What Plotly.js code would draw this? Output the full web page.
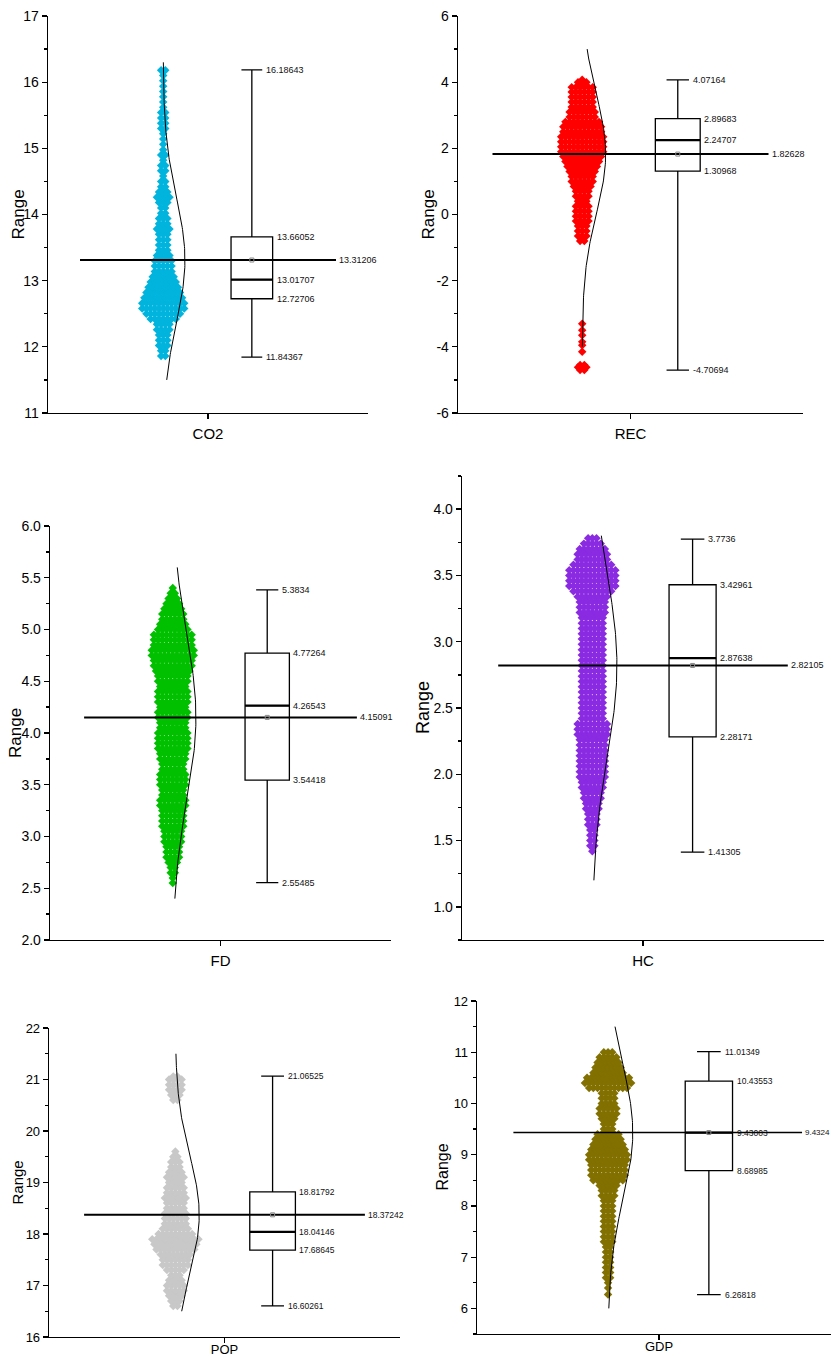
<!DOCTYPE html>
<html><head><meta charset="utf-8">
<script src="https://cdn.plot.ly/plotly-3.0.1.min.js"></script>
<style>html,body{margin:0;padding:0;background:#fff}#chart{width:831px;height:1358px}</style>
</head><body><div id="chart"></div>
<script>
// ---------- data ----------
const categories = ['CO2', 'REC', 'FD', 'HC', 'POP', 'GDP'];
const minVals    = [11.84367, -4.70694, 2.55485, 1.41305, 16.60261, 6.26818];
const q1Vals     = [12.72706, 1.30968, 3.54418, 2.28171, 17.68645, 8.68985];
const medianVals = [13.01707, 2.24707, 4.26543, 2.87638, 18.04146, 9.43003];
const q3Vals     = [13.66052, 2.89683, 4.77264, 3.42961, 18.81792, 10.43553];
const maxVals    = [16.18643, 4.07164, 5.3834, 3.7736, 21.06525, 11.01349];
const meanVals   = [13.31206, 1.82628, 4.15091, 2.82105, 18.37242, 9.4324];
const sdVals     = [0.95, 1.8, 0.8, 0.69, 1.15, 1.3];
const curveLo    = [11.5, -4.0, 2.4, 1.2, 16.5, 6.0];
const curveHi    = [16.3, 5.0, 5.6, 3.8, 21.5, 11.5];

// y tick values and labels per panel
const yTickVals = [
  [11, 12, 13, 14, 15, 16, 17],
  [-6, -4, -2, 0, 2, 4, 6],
  [2.0, 2.5, 3.0, 3.5, 4.0, 4.5, 5.0, 5.5, 6.0],
  [1.0, 1.5, 2.0, 2.5, 3.0, 3.5, 4.0],
  [16, 17, 18, 19, 20, 21, 22],
  [6, 7, 8, 9, 10, 11, 12]
];
const yTickText = [
  ['11', '12', '13', '14', '15', '16', '17'],
  ['-6', '-4', '-2', '0', '2', '4', '6'],
  ['2.0', '2.5', '3.0', '3.5', '4.0', '4.5', '5.0', '5.5', '6.0'],
  ['1.0', '1.5', '2.0', '2.5', '3.0', '3.5', '4.0'],
  ['16', '17', '18', '19', '20', '21', '22'],
  ['6', '7', '8', '9', '10', '11', '12']
];

// swarm: value levels and number of points seen at each level
const co2Levels = [11.86,11.94,12.02,12.10,12.18,12.26,12.34,12.42,12.50,12.58,12.66,12.74,12.82,12.90,12.98,13.06,13.14,13.22,13.30,13.38,13.46,13.54,13.62,13.70,13.78,13.86,13.94,14.02,14.10,14.18,14.26,14.34,14.42,14.50,14.58,14.66,14.74,14.82,14.90,14.98,15.06,15.14,15.22,15.30,15.38,15.46,15.54,15.62,15.70,15.78,15.86,15.94,16.02,16.10,16.18];
const co2Counts = [2,2,3,3,3,4,4,7,9,11,11,10,9,8,7,6,5,5,5,4,3,3,3,3,4,3,3,2,2,3,4,3,2,2,1,2,2,1,2,1,1,1,1,2,2,2,2,1,1,1,1,1,1,1,2];

const recLevels = [-4.70,-4.62,-4.55,-4.15,-3.95,-3.85,-3.65,-3.50,-3.30,-0.80,-0.65,-0.50,-0.35,-0.20,-0.05,0.10,0.25,0.40,0.55,0.70,0.85,1.00,1.15,1.30,1.45,1.60,1.75,1.90,2.05,2.20,2.35,2.50,2.65,2.80,2.95,3.10,3.25,3.40,3.55,3.70,3.85,4.00,4.07];
const recCounts = [2,3,2,1,1,1,1,1,1,2,3,3,3,4,4,4,4,3,4,4,5,6,6,7,8,9,10,11,11,11,11,10,10,9,7,7,6,6,6,6,6,3,1];

const fdLevels = [2.55,2.60,2.65,2.70,2.75,2.80,2.85,2.90,2.95,3.00,3.05,3.10,3.15,3.20,3.25,3.30,3.35,3.40,3.45,3.50,3.55,3.60,3.65,3.70,3.75,3.80,3.85,3.90,3.95,4.00,4.05,4.10,4.15,4.20,4.25,4.30,4.35,4.40,4.45,4.50,4.55,4.60,4.65,4.70,4.75,4.80,4.85,4.90,4.95,5.00,5.05,5.10,5.15,5.20,5.25,5.30,5.35,5.40];
const fdCounts = [1,1,2,2,3,4,4,4,5,5,5,6,6,6,6,7,7,6,6,7,7,7,6,6,7,7,8,8,8,8,7,7,8,8,7,8,8,8,7,8,8,9,10,10,11,11,10,10,10,8,7,6,6,5,4,3,2,1];

const hcLevels = [1.42,1.46,1.50,1.54,1.58,1.62,1.66,1.70,1.74,1.78,1.82,1.86,1.90,1.94,1.98,2.02,2.06,2.10,2.14,2.18,2.22,2.26,2.30,2.34,2.38,2.42,2.46,2.50,2.54,2.58,2.62,2.66,2.70,2.74,2.78,2.82,2.86,2.90,2.94,2.98,3.02,3.06,3.10,3.14,3.18,3.22,3.26,3.30,3.34,3.38,3.42,3.46,3.50,3.54,3.58,3.62,3.66,3.70,3.74,3.78];
const hcCounts = [1,2,2,2,2,3,3,3,4,4,5,5,6,6,7,7,7,7,7,7,7,7,8,8,8,6,6,6,6,6,6,6,6,6,6,6,6,6,6,6,6,6,6,6,6,7,7,7,8,10,12,12,12,12,10,8,8,7,5,3];

const popLevels = [16.6,16.7,16.8,16.9,17.0,17.1,17.2,17.3,17.4,17.5,17.6,17.7,17.8,17.9,18.0,18.1,18.2,18.3,18.4,18.5,18.6,18.7,18.8,18.9,19.0,19.1,19.2,19.3,19.4,19.5,19.6,20.6,20.7,20.8,20.9,21.0,21.06];
const popCounts = [2,3,4,5,5,4,3,5,7,7,8,10,11,12,9,7,6,6,6,5,5,6,5,5,4,5,4,3,3,2,1,2,3,4,4,4,2];

const gdpLevels = [6.27,6.4,6.5,6.6,6.7,6.8,6.9,7.0,7.1,7.2,7.3,7.4,7.5,7.6,7.7,7.8,7.9,8.0,8.1,8.2,8.3,8.4,8.5,8.6,8.7,8.8,8.9,9.0,9.1,9.2,9.3,9.4,9.5,9.6,9.7,9.8,9.9,10.0,10.1,10.2,10.3,10.4,10.5,10.6,10.7,10.8,10.9,11.0];
const gdpCounts = [1,1,1,2,2,2,2,2,2,2,3,3,3,3,3,3,3,3,3,4,4,5,8,9,9,9,10,10,9,8,7,6,3,3,4,5,5,4,4,4,10,12,11,8,7,6,5,3];

const swarmLevels = [co2Levels, recLevels, fdLevels, hcLevels, popLevels, gdpLevels];
const swarmCounts = [co2Counts, recCounts, fdCounts, hcCounts, popCounts, gdpCounts];
const colors = ['#00B4DE', '#FF0000', '#00C000', '#8A2BE2', '#C8C8C8', '#827000'];

// ---------- layout / style ----------
const W = 831, H = 1358;
const panels = [
  {x0:48,  x1:368, y0:16,   y1:413,  yr:[11,17],     mdt:0.5,  xr:[0,1], top:true,  titleX:18,  tfs:17},
  {x0:458, x1:803, y0:16,   y1:413,  yr:[-6,6],      mdt:1,    xr:[0,1], top:true,  titleX:428, tfs:17},
  {x0:50,  x1:391, y0:526,  y1:940,  yr:[2,6],       mdt:0.25, xr:[0,1], top:true,  titleX:15,  tfs:17},
  {x0:462, x1:824, y0:476,  y1:940,  yr:[0.75,4.25], mdt:0.25, xr:[0,1], top:true,  titleX:423, tfs:18},
  {x0:49,  x1:400, y0:1028, y1:1337, yr:[16,22],     mdt:0.5,  xr:[0,1], top:false, titleX:17,  tfs:15},
  {x0:477, x1:831, y0:1001, y1:1334, yr:[5.5,12],    mdt:0.5,  xr:[0,354/364], top:false, titleX:442, tfs:16}
];
const FONT = '"Liberation Sans", Arial, sans-serif';
const SWARM_C = 0.36, BOX_C = 0.637, BOX_W = 0.13, CURVE_AMP = 0.068, SPACING_PX = 4.2;

const traces = [];
const annotations = [];
const layout = {
  width: W, height: H, margin: {l:0, r:0, t:0, b:0},
  paper_bgcolor: '#fff', plot_bgcolor: 'rgba(0,0,0,0)', showlegend: false,
  annotations: annotations
};

panels.forEach((p, i) => {
  const xa = i === 0 ? 'x' : 'x' + (i + 1);
  const ya = i === 0 ? 'y' : 'y' + (i + 1);
  const xk = i === 0 ? 'xaxis' : 'xaxis' + (i + 1);
  const yk = i === 0 ? 'yaxis' : 'yaxis' + (i + 1);
  const tickFont = {family: FONT, size: p.top ? 14 : 13, color: '#000'};
  const labFont = {family: FONT, size: p.top ? 9 : 8.5, color: '#111'};
  const pxPerUnit = (p.x1 - p.x0) / (p.xr[1] - p.xr[0]);
  const dx = SPACING_PX / pxPerUnit;

  layout[xk] = {
    domain: [p.x0 / W, p.x1 / W], range: p.xr, anchor: ya,
    showline: true, linecolor: '#000', linewidth: 1.3, showgrid: false, zeroline: false,
    ticks: 'outside', ticklen: 5, tickwidth: 1.3, tickcolor: '#000',
    tickvals: [0.5], ticktext: [categories[i]], ticklabelstandoff: p.top ? 2 : -5,
    tickfont: {family: FONT, size: p.top ? 15 : 13, color: '#000'}
  };
  layout[yk] = {
    domain: [1 - p.y1 / H, 1 - p.y0 / H], range: p.yr, anchor: xa,
    showline: true, linecolor: '#000', linewidth: 1.3, showgrid: false, zeroline: false,
    ticks: 'outside', ticklen: 5, tickwidth: 1.3, tickcolor: '#000',
    tickmode: 'array', tickvals: yTickVals[i], ticktext: yTickText[i], tickfont: tickFont,
    minor: {ticks: 'outside', ticklen: 3, tickwidth: 1.3, tickcolor: '#000', dtick: p.mdt, tick0: 0, showgrid: false}
  };

  // swarm points
  const sx = [], sy = [];
  swarmLevels[i].forEach((v, k) => {
    const n = swarmCounts[i][k];
    for (let j = 0; j < n; j++) {
      sx.push(SWARM_C + (j - (n - 1) / 2) * dx);
      sy.push(v);
    }
  });
  traces.push({type: 'scatter', mode: 'markers', x: sx, y: sy, xaxis: xa, yaxis: ya,
    marker: {symbol: 'diamond', size: 6.5, color: colors[i], line: {width: 0}}, hoverinfo: 'y'});

  // box (precomputed statistics)
  traces.push({type: 'box', x: [BOX_C], q1: [q1Vals[i]], median: [medianVals[i]], q3: [q3Vals[i]],
    lowerfence: [minVals[i]], upperfence: [maxVals[i]], width: BOX_W, whiskerwidth: 0.5,
    boxpoints: false, fillcolor: 'rgba(255,255,255,0)', line: {color: '#000', width: 1.3},
    xaxis: xa, yaxis: ya});

  // normal distribution curve
  const cx = [], cy = [];
  for (let k = 0; k <= 150; k++) {
    const y = curveLo[i] + (curveHi[i] - curveLo[i]) * k / 150;
    const z = (y - meanVals[i]) / sdVals[i];
    cx.push(SWARM_C + CURVE_AMP * Math.exp(-0.5 * z * z));
    cy.push(y);
  }
  traces.push({type: 'scatter', mode: 'lines', x: cx, y: cy, xaxis: xa, yaxis: ya,
    line: {color: '#000', width: 1}, hoverinfo: 'skip'});

  // mean line
  const meanEnd = i === 5 ? 0.893 : 0.9;
  traces.push({type: 'scatter', mode: 'lines', x: [0.1, meanEnd], y: [meanVals[i], meanVals[i]], xaxis: xa, yaxis: ya,
    line: {color: '#000', width: i === 5 ? 1.4 : 2}, hoverinfo: 'skip'});
  // median (thicker)
  traces.push({type: 'scatter', mode: 'lines', x: [BOX_C - BOX_W / 2, BOX_C + BOX_W / 2], y: [medianVals[i], medianVals[i]],
    xaxis: xa, yaxis: ya, line: {color: '#000', width: 2.2}, hoverinfo: 'skip'});
  // mean marker
  traces.push({type: 'scatter', mode: 'markers', x: [BOX_C], y: [meanVals[i]], xaxis: xa, yaxis: ya,
    marker: {symbol: 'square-open', size: 4, color: '#888', line: {width: 1}}, hoverinfo: 'skip'});

  // value labels
  const capR = BOX_C + BOX_W * 0.25, boxR = BOX_C + BOX_W / 2;
  const lab = (x, y, shift, font) => annotations.push({xref: xa, yref: ya, x: x, y: y, text: String(y),
    showarrow: false, xanchor: 'left', yanchor: 'middle', xshift: shift, font: font || labFont});
  lab(capR, maxVals[i], 2);
  lab(boxR, q3Vals[i], 2);
  lab(boxR, medianVals[i], 2);
  lab(boxR, q1Vals[i], 2);
  lab(capR, minVals[i], 2);
  lab(meanEnd, meanVals[i], 1, i === 5 ? {family: FONT, size: 8, color: '#111'} : null);

  // y-axis title
  annotations.push({xref: 'paper', yref: 'paper', x: p.titleX / W, y: 1 - (p.y0 + p.y1) / 2 / H,
    text: 'Range', textangle: -90, showarrow: false, xanchor: 'center', yanchor: 'middle',
    font: {family: FONT, size: p.tfs, color: '#000'}});
});

Plotly.newPlot('chart', traces, layout, {staticPlot: true});
</script>
</body></html>
